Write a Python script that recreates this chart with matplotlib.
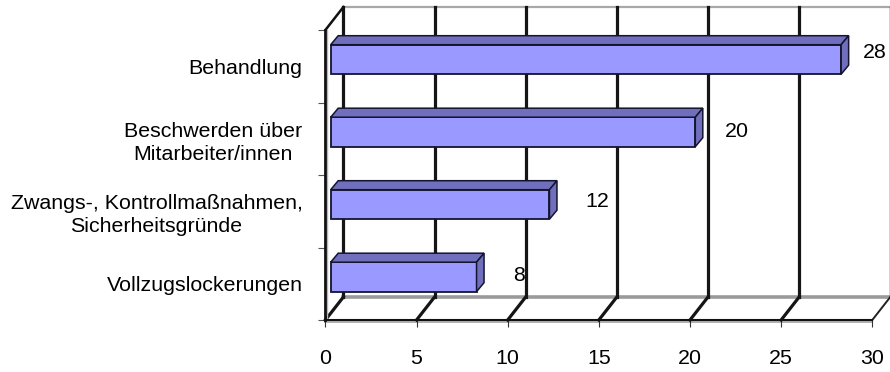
import matplotlib
matplotlib.use("Agg")
import matplotlib.pyplot as plt
from matplotlib.patches import Polygon

plt.rcParams['font.family'] = ['Liberation Sans', 'DejaVu Sans']

# Complaint categories, top to bottom, and their counts
categories = ["Behandlung", "Beschwerden über\nMitarbeiter/innen",
              "Zwangs-, Kontrollmaßnahmen,\nSicherheitsgründe", "Vollzugslockerungen"]
counts = [28, 20, 12, 8]
x_ticks = [0, 5, 10, 15, 20, 25, 30]

W, H = 890, 372
fig = plt.figure(figsize=(W / 100, H / 100), dpi=100)
L, R, T, B = 325.4, 872.3, 30.0, 320.0
ax = fig.add_axes([L / W, 1 - B / H, (R - L) / W, (B - T) / H])
ax.set_xlim(0, 30)
ax.set_ylim(0, 4)
ax.patch.set_visible(False)

ux = 30 / (R - L)   # data units per pixel, horizontal
uy = 4 / (B - T)    # data units per pixel, vertical
wall_dx, wall_dy = 18 * ux, 23 * uy   # depth of the 3D box
bar_dx, bar_dy = 7.5 * ux, 9 * uy     # depth of each bar
FACE, SHADE, EDGE = "#9999FF", "#6F6FBD", "#14142E"
FS = 15.4

# Back wall outline and floor
ax.plot([wall_dx, 30 + wall_dx], [4 + wall_dy] * 2, color="#a8a8a8", lw=1.6, clip_on=False, zorder=1)
ax.plot([wall_dx, 30 + wall_dx], [wall_dy] * 2, color="#9a9a9a", lw=2.6, clip_on=False, zorder=1)
ax.plot([0, 30], [-1.5 * uy] * 2, color="#b0b0b0", lw=1.4, clip_on=False, zorder=1)

# Grid lines run up the back wall and forward across the floor
for t in x_ticks:
    if t == 30:
        ax.plot([t + wall_dx] * 2, [wall_dy, 4 + wall_dy], color="#222222", lw=1.0, clip_on=False, zorder=2)
        ax.plot([t, t + wall_dx], [0, wall_dy], color="#222222", lw=1.4, clip_on=False, zorder=2)
    else:
        ax.plot([t + wall_dx] * 2, [wall_dy, 4 + wall_dy], color="#151515", lw=2.3, clip_on=False, zorder=2)
        ax.plot([t, t + wall_dx], [0, wall_dy], color="#151515", lw=2.3, clip_on=False, zorder=2)

# Left wall
ax.plot([0, wall_dx], [4, 4 + wall_dy], color="#111111", lw=1.8, clip_on=False, zorder=3)
ax.plot([1.8 * ux] * 2, [0, 4], color="#b5b5b5", lw=1.0, zorder=2)

# Bars: front face plus shaded top and side faces
ypos = [3.5, 2.5, 1.5, 0.5]
bar_left = 5.3 * ux
bar_h = 29.5 * uy
bar_mid = 6.8 * uy
ax.barh([y + bar_mid for y in ypos], counts, height=bar_h, left=bar_left,
        color=FACE, edgecolor=EDGE, linewidth=1.3, zorder=5, clip_on=False)
for y, v in zip(ypos, counts):
    x0, x1 = bar_left, bar_left + v
    y0, y1 = y + bar_mid - bar_h / 2, y + bar_mid + bar_h / 2
    top = [(x0, y1), (x1, y1), (x1 + bar_dx, y1 + bar_dy), (x0 + bar_dx, y1 + bar_dy)]
    side = [(x1, y0), (x1, y1), (x1 + bar_dx, y1 + bar_dy), (x1 + bar_dx, y0 + bar_dy)]
    for pts in (top, side):
        ax.add_patch(Polygon(pts, closed=True, facecolor=SHADE, edgecolor=EDGE,
                             linewidth=1.1, zorder=5, clip_on=False))

# Value labels, each nudged clear of its bar
label_gaps = [38.5, 47, 53, 48]
label_rises = [7, 0, 3, 1]
for y, v, gap, rise in zip(ypos, counts, label_gaps, label_rises):
    ax.text(v + gap * ux, y + bar_mid + rise * uy, str(v), ha="center", va="center",
            fontsize=FS, color="black", zorder=6, clip_on=False)

# Axes frame and ticks
for side in ("top", "right"):
    ax.spines[side].set_visible(False)
ax.spines["left"].set_linewidth(2.0)
ax.spines["left"].set_color("#111111")
ax.spines["bottom"].set_linewidth(1.5)
ax.spines["bottom"].set_color("#111111")
ax.set_xticks(x_ticks)
ax.set_xticklabels([str(t) for t in x_ticks], fontsize=FS)
ax.tick_params(axis="x", length=5, width=0.8, color="#333333", pad=16)
ax.set_yticks([0, 1, 2, 3, 4])
ax.set_yticklabels([])
ax.tick_params(axis="y", length=5, width=0.8, color="#555555")
ax.set_yticks(ypos, minor=True)
ax.set_yticklabels(categories, minor=True, fontsize=FS, multialignment="center", linespacing=1.28)
ax.tick_params(axis="y", which="minor", length=0, pad=16.5)

fig.savefig("out.png", dpi=100)
